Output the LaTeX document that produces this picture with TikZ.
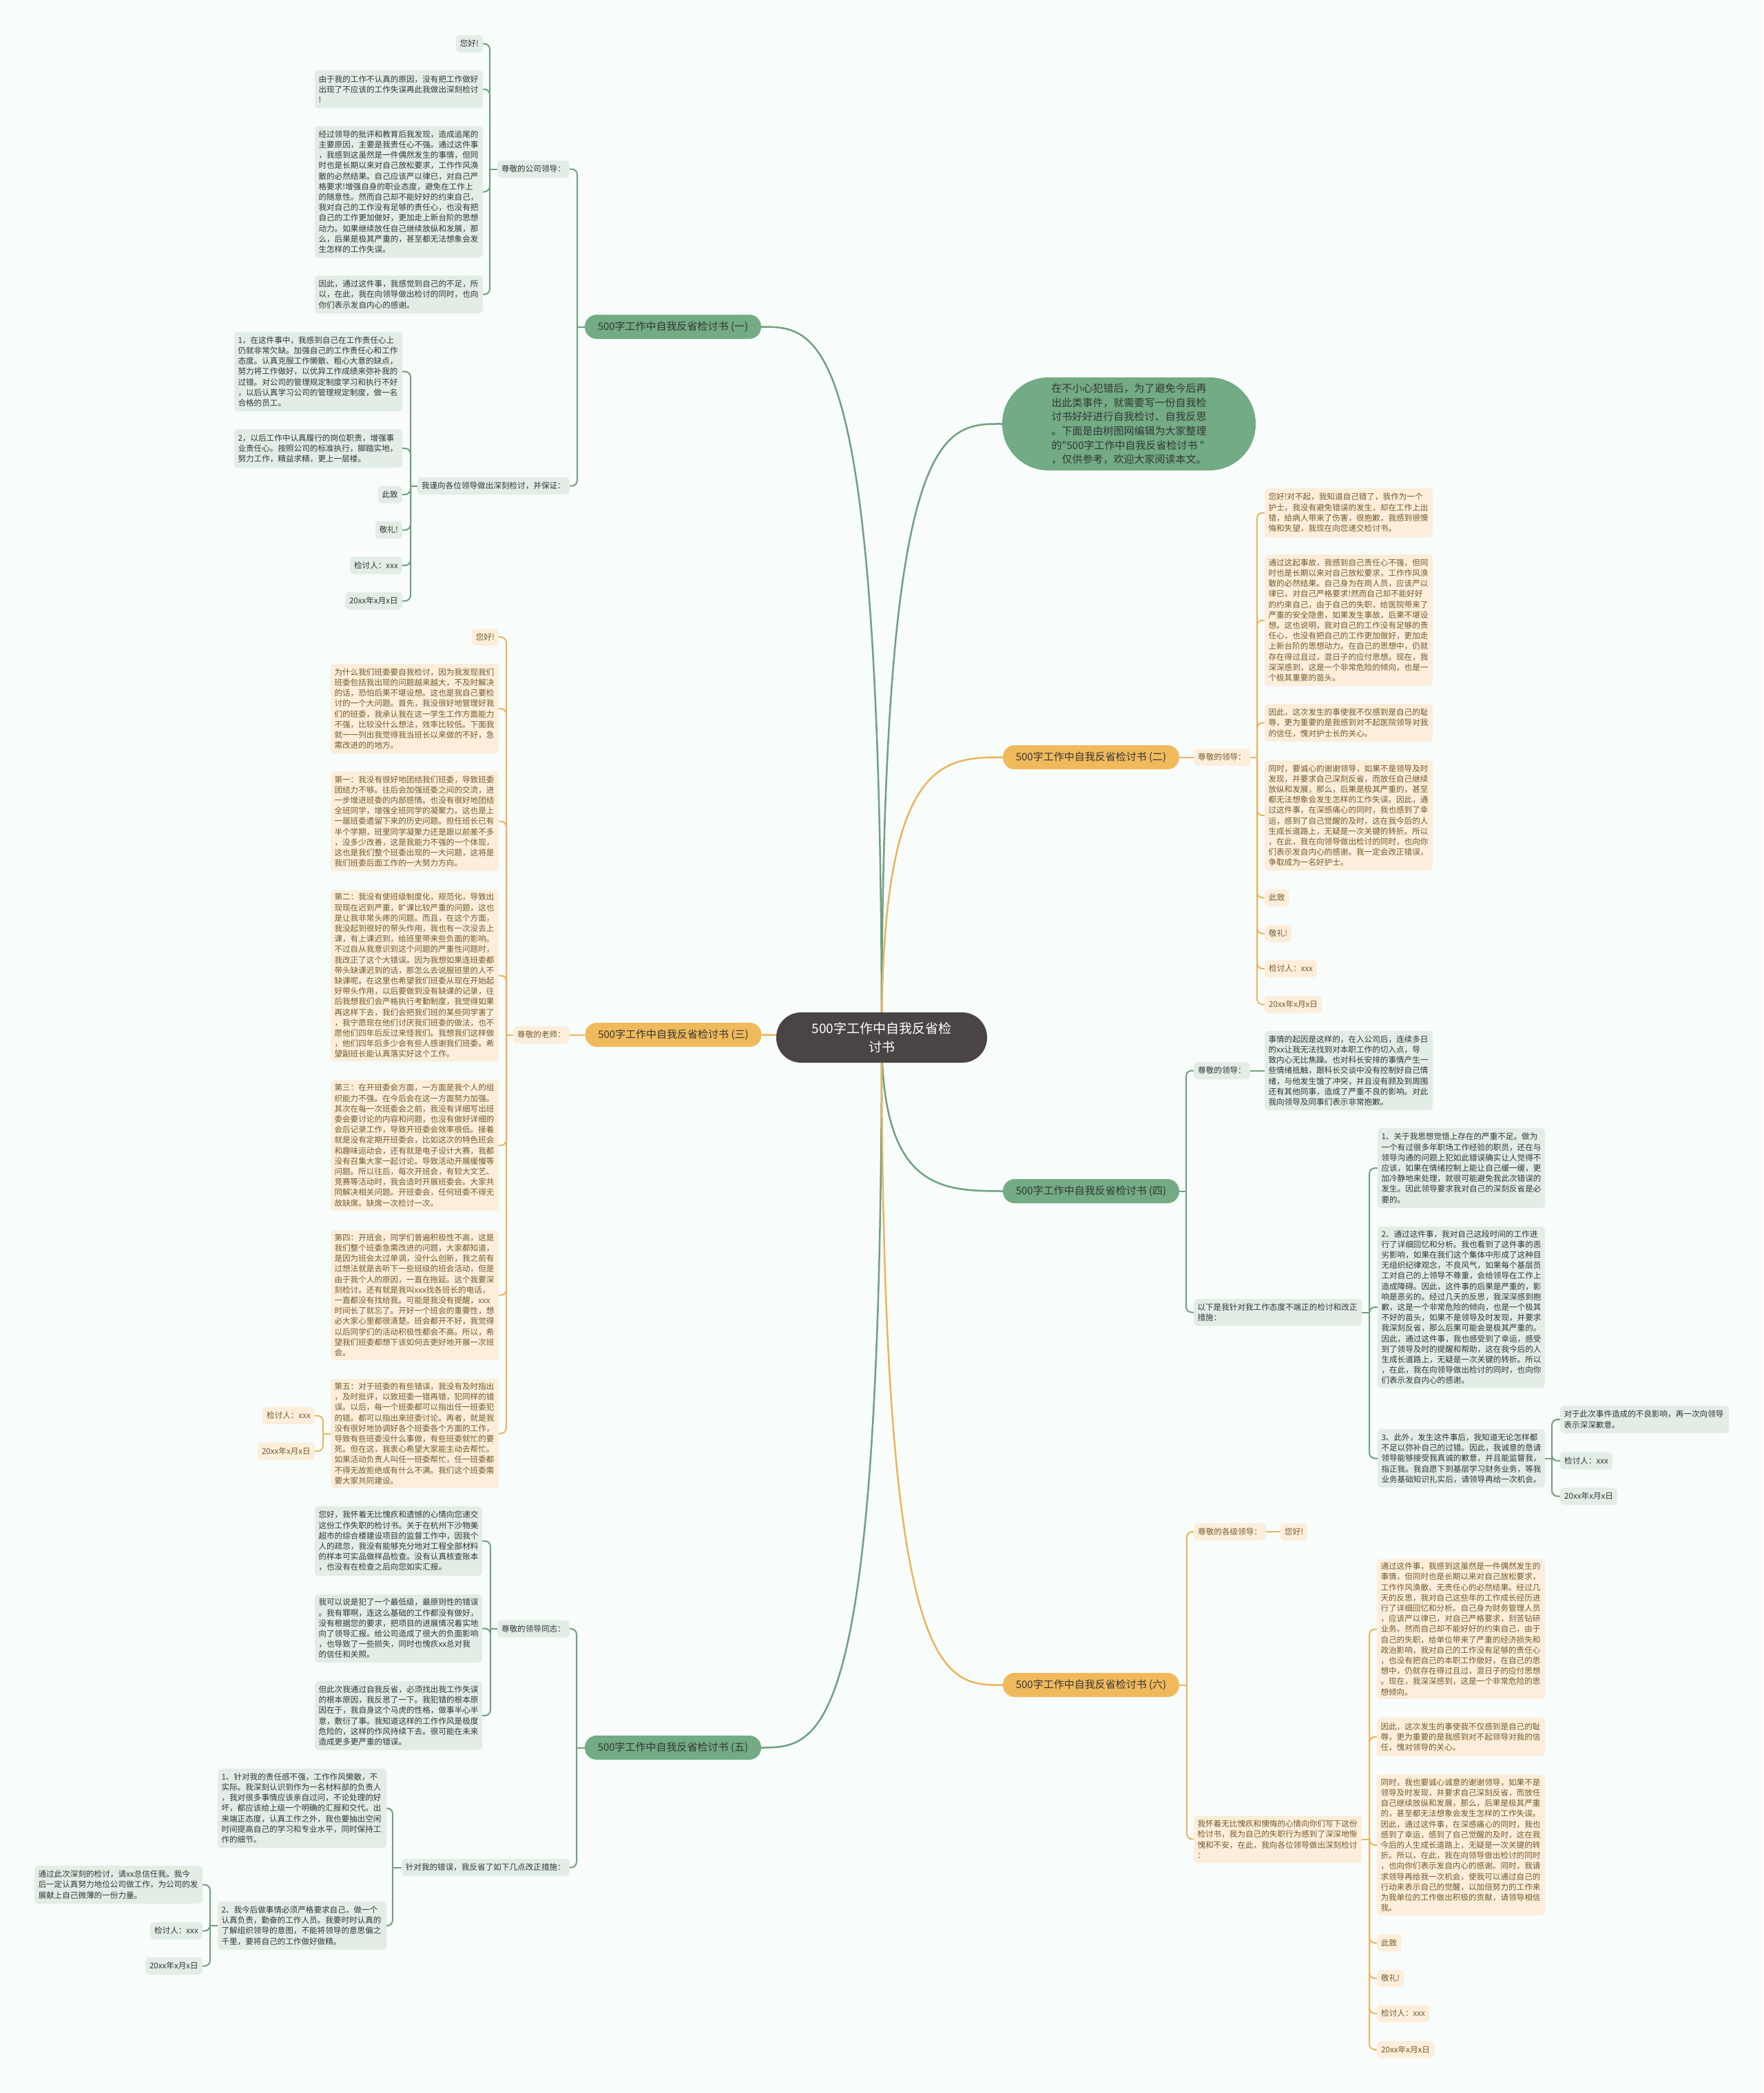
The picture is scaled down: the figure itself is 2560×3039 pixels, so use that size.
\documentclass[tikz,border=0pt]{standalone}
\usepackage{fontspec}
\newfontfamily\cjk{Noto Sans CJK SC}
\definecolor{bgc}{HTML}{F8FCFB}
\definecolor{glinec}{HTML}{6FA07F}
\definecolor{olinec}{HTML}{E9B55C}
\definecolor{gbrc}{HTML}{72AB84}
\definecolor{obrc}{HTML}{F0BA5C}
\definecolor{gleafc}{HTML}{E2EEE5}
\definecolor{oleafc}{HTML}{FCEEDB}
\definecolor{gtextc}{HTML}{353535}
\definecolor{otextc}{HTML}{765A2C}
\definecolor{ctrc}{HTML}{4A4444}
\pgfdeclarelayer{back}\pgfdeclarelayer{bg}\pgfsetlayers{back,bg,main}
\newcommand\bx[7]{%
 \pgfmathsetmacro\bxw{#5-#3}%
 \pgfmathsetmacro\bxh{#6-#4}%
 \pgfmathsetmacro\bxt{#5-#3-11}%
 \pgfmathsetmacro\bxcx{(#3+#5)/2}%
 \pgfmathsetmacro\bxcy{(#4+#6)/2}%
 \node[#1, minimum width=\bxw pt, minimum height=\bxh pt, text width=\bxt pt, inner xsep=5.5pt] (#2) at (\bxcx,\bxcy) {#7};}
\newcommand\smE[5]{\node[#1, anchor=east, minimum height=25pt] (#2) at (#3,#4) {#5};}
\newcommand\smW[5]{\node[#1, anchor=west, minimum height=25pt] (#2) at (#3,#4) {#5};}
\newcommand\ltree[4]{%
 \coordinate (sp) at (#3,0);
 \draw[#1] (#2.west) -- (#2.west -| sp);
 \foreach \c in {#4}{\draw[#1,rounded corners=8pt] (#2.west -| sp) |- (\c.east);}}
\newcommand\rtree[4]{%
 \coordinate (sp) at (#3,0);
 \draw[#1] (#2.east) -- (#2.east -| sp);
 \foreach \c in {#4}{\draw[#1,rounded corners=8pt] (#2.east -| sp) |- (\c.west);}}
\tikzset{
 every node/.style={font=\cjk\fontsize{11.6}{15.2}\selectfont, inner xsep=6pt, inner ysep=3pt},
 gleaf/.style={fill=gleafc, rounded corners=5pt, text=gtextc, align=left},
 oleaf/.style={fill=oleafc, rounded corners=5pt, text=otextc, align=left},
 brbase/.style={rounded corners=17pt, font=\cjk\fontsize{15}{18}\selectfont, minimum width=256pt, minimum height=35pt, inner sep=0pt, text=gtextc},
 gbr/.style={brbase, fill=gbrc},
 obr/.style={brbase, fill=obrc},
 gl/.style={draw=glinec, line width=2pt},
 ol/.style={draw=olinec, line width=2pt},
 gmain/.style={draw=glinec, line width=2.5pt},
 omain/.style={draw=olinec, line width=2.5pt},
}
\begin{document}
\begin{tikzpicture}[x=1pt,y=-1pt]
\useasboundingbox (0,0) rectangle (2560,3039);
\begin{pgfonlayer}{back}
\fill[bgc] (0,0) rectangle (2560,3039);
\end{pgfonlayer}

% center and intro
\node[fill=ctrc, text=white, rounded corners=36pt, minimum width=306pt, minimum height=73pt, align=center, font=\cjk\fontsize{19}{27}\selectfont] (ctr) at (1280,1506.5) {500字工作中自我反省检\\讨书};
\node[fill=gbrc, text=gtextc, rounded corners=67pt, minimum width=368pt, minimum height=135pt, align=left, font=\cjk\fontsize{15}{20.7}\selectfont] (intro) at (1639,615.5) {在不小心犯错后，为了避免今后再\\出此类事件，就需要写一份自我检\\讨书好好进行自我检讨、自我反思\\。下面是由树图网编辑为大家整理\\的"500字工作中自我反省检讨书 "\\，仅供参考，欢迎大家阅读本文。};

% branch labels
\node[gbr] (b1) at (977,474.5) {500字工作中自我反省检讨书 (一)};
\node[obr] (b3) at (977.5,1502.5) {500字工作中自我反省检讨书 (三)};
\node[gbr] (b5) at (977,2537.5) {500字工作中自我反省检讨书 (五)};
\node[obr] (b2) at (1584,1099.5) {500字工作中自我反省检讨书 (二)};
\node[gbr] (b4) at (1584,1729.5) {500字工作中自我反省检讨书 (四)};
\node[obr] (b6) at (1584,2446.5) {500字工作中自我反省检讨书 (六)};

% ---------- branch 1
\smE{gleaf}{s1a}{827}{245.5}{尊敬的公司领导：}
\smE{gleaf}{s1b}{827}{705.5}{我谨向各位领导做出深刻检讨，并保证：}
\smE{gleaf}{c1}{701}{63.5}{您好!}
\bx{gleaf}{c2}{457}{102}{701}{157}{由于我的工作不认真的原因，没有把工作做好\\出现了不应该的工作失误再此我做出深刻检讨\\!}
\bx{gleaf}{c3}{457}{183}{701}{374}{经过领导的批评和教育后我发现，造成追尾的\\主要原因，主要是我责任心不强。通过这件事\\，我感到这虽然是一件偶然发生的事情，但同\\时也是长期以来对自己放松要求，工作作风涣\\散的必然结果。自己应该严以律已，对自己严\\格要求!增强自身的职业态度，避免在工作上\\的随意性。然而自己却不能好好的约束自己，\\我对自己的工作没有足够的责任心，也没有把\\自己的工作更加做好，更加走上新台阶的思想\\动力。如果继续放任自己继续放纵和发展，那\\么，后果是极其严重的，甚至都无法想象会发\\生怎样的工作失误。}
\bx{gleaf}{c4}{457}{400}{701}{455}{因此，通过这件事，我感觉到自己的不足，所\\以，在此，我在向领导做出检讨的同时，也向\\你们表示发自内心的感谢。}
\bx{gleaf}{d1}{340}{482}{584}{597}{1，在这件事中，我感到自己在工作责任心上\\仍就非常欠缺。加强自己的工作责任心和工作\\态度。认真克服工作懒散、粗心大意的缺点，\\努力将工作做好，以优异工作成绩来弥补我的\\过错。对公司的管理规定制度学习和执行不好\\，以后认真学习公司的管理规定制度，做一名\\合格的员工。}
\bx{gleaf}{d2}{340}{623}{584}{679}{2，以后工作中认真履行的岗位职责，增强事\\业责任心。按照公司的标准执行，脚踏实地，\\努力工作，精益求精，更上一层楼。}
\smE{gleaf}{d3}{584}{718}{此致}
\smE{gleaf}{d4}{584}{769.5}{敬礼!}
\smE{gleaf}{d5}{584}{821}{检讨人：xxx}
\smE{gleaf}{d6}{584}{872.5}{20xx年x月x日}

% ---------- branch 3
\smE{oleaf}{s3}{827}{1502.5}{尊敬的老师：}
\smE{oleaf}{e1}{724}{925}{您好!}
\bx{oleaf}{e2}{480}{964}{724}{1094}{为什么我们班委要自我检讨，因为我发现我们\\班委包括我出现的问题越来越大，不及时解决\\的话，恐怕后果不堪设想。这也是我自己要检\\讨的一个大问题。首先，我没很好地管理好我\\们的班委，我承认我在这一学生工作方面能力\\不强，比较没什么想法，效率比较低。下面我\\就一一列出我觉得我当班长以来做的不好，急\\需改进的的地方。}
\bx{oleaf}{e3}{480}{1120}{724}{1265}{第一：我没有很好地团结我们班委，导致班委\\团结力不够。往后会加强班委之间的交流，进\\一步增进班委的内部感情。也没有很好地团结\\全班同学，增强全班同学的凝聚力。这也是上\\一届班委遗留下来的历史问题。担任班长已有\\半个学期，班里同学凝聚力还是跟以前差不多\\，没多少改善，这是我能力不强的一个体现，\\这也是我们整个班委出现的一大问题，这将是\\我们班委后面工作的一大努力方向。}
\bx{oleaf}{e4}{480}{1292}{724}{1541}{第二：我没有使班级制度化，规范化，导致出\\现现在迟到严重，旷课比较严重的问题，这也\\是让我非常头疼的问题。而且，在这个方面，\\我没起到很好的带头作用，我也有一次没去上\\课，有上课迟到，给班里带来些负面的影响。\\不过自从我意识到这个问题的严重性问题时，\\我改正了这个大错误。因为我想如果连班委都\\带头缺课迟到的话，那怎么去说服班里的人不\\缺课呢。在这里也希望我们班委从现在开始起\\好带头作用，以后要做到没有缺课的记录，往\\后我想我们会严格执行考勤制度，我觉得如果\\再这样下去，我们会把我们班的某些同学害了\\，我宁愿现在他们讨厌我们班委的做法，也不\\愿他们四年后反过来怪我们。我想我们这样做\\，他们四年后多少会有些人感谢我们班委。希\\望副班长能认真落实好这个工作。}
\bx{oleaf}{e5}{480}{1568}{724}{1758}{第三：在开班委会方面，一方面是我个人的组\\织能力不强。在今后会在这一方面努力加强。\\其次在每一次班委会之前，我没有详细写出班\\委会要讨论的内容和问题，也没有做好详细的\\会后记录工作，导致开班委会效率很低。接着\\就是没有定期开班委会，比如这次的特色班会\\和趣味运动会，还有就是电子设计大赛，我都\\没有召集大家一起讨论。导致活动开展缓慢等\\问题。所以往后，每次开班会，有较大文艺、\\竞赛等活动时，我会适时开展班委会。大家共\\同解决相关问题。开班委会，任何班委不得无\\故缺席。缺席一次检讨一次。}
\bx{oleaf}{e6}{480}{1786}{724}{1975}{第四：开班会，同学们普遍积极性不高，这是\\我们整个班委急需改进的问题，大家都知道，\\是因为班会太过单调，没什么创新，我之前有\\过想法就是去听下一些班级的班会活动，但是\\由于我个人的原因，一直在拖延。这个我要深\\刻检讨。还有就是我叫xxx找各班长的电话，\\一直都没有找给我。可能是我没有提醒，xxx\\时间长了就忘了。开好一个班会的重要性，想\\必大家心里都很清楚。班会都开不好，我觉得\\以后同学们的活动积极性都会不高。所以，希\\望我们班委都想下该如何去更好地开展一次班\\会。}
\bx{oleaf}{e7}{480}{2002}{724}{2161}{第五：对于班委的有些错误，我没有及时指出\\，及时批评，以致班委一错再错，犯同样的错\\误。以后，每一个班委都可以指出任一班委犯\\的错。都可以指出来班委讨论。再者，就是我\\没有很好地协调好各个班委各个方面的工作，\\导致有些班委没什么事做，有些班委就忙的要\\死。但在这，我衷心希望大家能主动去帮忙。\\如果活动负责人叫任一班委帮忙，任一班委都\\不得无故拒绝或有什么不满。我们这个班委需\\要大家共同建设。}
\smE{oleaf}{f1}{457}{2055.5}{检讨人：xxx}
\smE{oleaf}{f2}{457}{2107}{20xx年x月x日}

% ---------- branch 5
\smE{gleaf}{s5a}{827}{2365}{尊敬的领导同志：}
\smE{gleaf}{s5b}{827}{2711.5}{针对我的错误，我反省了如下几点改正措施：}
\bx{gleaf}{g1}{457}{2187}{700}{2288}{您好，我怀着无比愧疚和遗憾的心情向您递交\\这份工作失职的检讨书。关于在杭州下沙物美\\超市的综合楼建设项目的监督工作中，因我个\\人的疏忽，我没有能够充分地对工程全部材料\\的样本可实品做样品检查。没有认真核查账本\\，也没有在检查之后向您如实汇报。}
\bx{gleaf}{g2}{457}{2315}{700}{2414}{我可以说是犯了一个最低级，最原则性的错误\\。我有罪啊，连这么基础的工作都没有做好，\\没有根据您的要求，把项目的进展情况着实地\\向了领导汇报。给公司造成了很大的负面影响\\，也导致了一些损失，同时也愧疚xx总对我\\的信任和关照。}
\bx{gleaf}{g3}{457}{2441}{700}{2541}{但此次我通过自我反省，必须找出我工作失误\\的根本原因，我反思了一下。我犯错的根本原\\因在于，我自身这个马虎的性格，做事半心半\\意，敷衍了事。我知道这样的工作作风是极度\\危险的，这样的作风持续下去。很可能在未来\\造成更多更严重的错误。}
\bx{gleaf}{h1}{316}{2568}{561}{2683}{1、针对我的责任感不强，工作作风懒散，不\\实际。我深刻认识到作为一名材料部的负责人\\，我对很多事情应该亲自过问，不论处理的好\\坏，都应该给上级一个明确的汇报和交代。出\\来端正态度，认真工作之外，我也要抽出空闲\\时间提高自己的学习和专业水平，同时保持工\\作的细节。}
\bx{gleaf}{h2}{316}{2761}{561}{2831}{2、我今后做事情必须严格要求自己，做一个\\认真负责，勤奋的工作人员。我要时时认真的\\了解组织领导的意图，不能将领导的意思偏之\\千里，要将自己的工作做好做精。}
\bx{gleaf}{i1}{50}{2709}{294}{2764}{通过此次深刻的检讨，请xx总信任我。我今\\后一定认真努力地位公司做工作，为公司的发\\展献上自己微薄的一份力量。}
\smE{gleaf}{i2}{294}{2803.5}{检讨人：xxx}
\smE{gleaf}{i3}{294}{2854.5}{20xx年x月x日}

% ---------- branch 2
\smW{oleaf}{s2}{1733}{1099.5}{尊敬的领导：}
\bx{oleaf}{j1}{1836}{709}{2080}{780}{您好!对不起，我知道自己错了，我作为一个\\护士，我没有避免错误的发生，却在工作上出\\错，给病人带来了伤害，很抱歉，我感到很懊\\悔和失望，我现在向您递交检讨书。}
\bx{oleaf}{j2}{1836}{805}{2080}{996}{通过这起事故，我感到自己责任心不强，但同\\时也是长期以来对自己放松要求，工作作风涣\\散的必然结果。自己身为在岗人员，应该严以\\律已，对自己严格要求!然而自己却不能好好\\的约束自己，由于自己的失职，给医院带来了\\严重的安全隐患，如果发生事故，后果不堪设\\想。这也说明，我对自己的工作没有足够的责\\任心，也没有把自己的工作更加做好，更加走\\上新台阶的思想动力。在自己的思想中，仍就\\存在得过且过，混日子的应付思想。现在，我\\深深感到，这是一个非常危险的倾向，也是一\\个极其重要的苗头。}
\bx{oleaf}{j3}{1836}{1022}{2080}{1077}{因此，这次发生的事使我不仅感到是自己的耻\\辱，更为重要的是我感到对不起医院领导对我\\的信任，愧对护士长的关心。}
\bx{oleaf}{j4}{1836}{1104}{2080}{1264}{同时，要诚心的谢谢领导，如果不是领导及时\\发现，并要求自己深刻反省，而放任自己继续\\放纵和发展，那么，后果是极其严重的，甚至\\都无法想象会发生怎样的工作失误。因此，通\\过这件事，在深感痛心的同时，我也感到了幸\\运，感到了自己觉醒的及时，这在我今后的人\\生成长道路上，无疑是一次关键的转折。所以\\，在此，我在向领导做出检讨的同时，也向你\\们表示发自内心的感谢。我一定会改正错误，\\争取成为一名好护士。}
\smW{oleaf}{j5}{1836}{1303.5}{此致}
\smW{oleaf}{j6}{1836}{1355.5}{敬礼!}
\smW{oleaf}{j7}{1836}{1406.5}{检讨人：xxx}
\smW{oleaf}{j8}{1836}{1458.5}{20xx年x月x日}

% ---------- branch 4
\smW{gleaf}{s4a}{1733}{1554.5}{尊敬的领导：}
\bx{gleaf}{k1}{1836}{1497}{2080}{1612}{事情的起因是这样的，在入公司后，连续多日\\的xx让我无法找到对本职工作的切入点，导\\致内心无比焦躁。也对科长安排的事情产生一\\些情绪抵触，跟科长交谈中没有控制好自己情\\绪，与他发生饿了冲突，并且没有顾及到周围\\还有其他同事，造成了严重不良的影响。对此\\我向领导及同事们表示非常抱歉。}
\bx{gleaf}{s4b}{1733}{1886}{1977}{1925}{以下是我针对我工作态度不端正的检讨和改正\\措施：}
\bx{gleaf}{l1}{2000}{1638}{2243}{1754}{1、关于我思想觉悟上存在的严重不足。做为\\一个有过很多年职场工作经验的职员，还在与\\领导沟通的问题上犯如此错误确实让人觉得不\\应该，如果在情绪控制上能让自己缓一缓，更\\加冷静地来处理，就很可能避免我此次错误的\\发生。因此领导要求我对自己的深刻反省是必\\要的。}
\bx{gleaf}{l2}{2000}{1781}{2243}{2015}{2、通过这件事，我对自己这段时间的工作进\\行了详细回忆和分析。我也看到了这件事的恶\\劣影响，如果在我们这个集体中形成了这种目\\无组织纪律观念，不良风气，如果每个基层员\\工对自己的上领导不尊重，会给领导在工作上\\造成障碍。因此，这件事的后果是严重的，影\\响是恶劣的。经过几天的反思，我深深感到抱\\歉，这是一个非常危险的倾向，也是一个极其\\不好的苗头，如果不是领导及时发现，并要求\\我深刻反省，那么后果可能会是极其严重的。\\因此，通过这件事，我也感受到了幸运，感受\\到了领导及时的提醒和帮助，这在我今后的人\\生成长道路上，无疑是一次关键的转折。所以\\，在此，我在向领导做出检讨的同时，也向你\\们表示发自内心的感谢。}
\bx{gleaf}{l3}{2000}{2075}{2243}{2160}{3、此外，发生这件事后，我知道无论怎样都\\不足以弥补自己的过错。因此，我诚意的恳请\\领导能够接受我真诚的歉意，并且能监督我，\\指正我。我自愿下到基层学习财务业务，等我\\业务基础知识扎实后，请领导再给一次机会。}
\bx{gleaf}{m1}{2265}{2041}{2510}{2081}{对于此次事件造成的不良影响，再一次向领导\\表示深深歉意。}
\smW{gleaf}{m2}{2265}{2121}{检讨人：xxx}
\smW{gleaf}{m3}{2265}{2172.5}{20xx年x月x日}

% ---------- branch 6
\smW{oleaf}{s6a}{1733}{2224}{尊敬的各级领导：}
\smW{oleaf}{n0}{1859}{2224}{您好!}
\bx{oleaf}{s6b}{1733}{2636}{1977}{2705}{我怀着无比愧疚和懊悔的心情向你们写下这份\\检讨书，我为自己的失职行为感到了深深地惭\\愧和不安，在此，我向各位领导做出深刻检讨\\：}
\bx{oleaf}{o1}{1999}{2264}{2243}{2467}{通过这件事，我感到这虽然是一件偶然发生的\\事情，但同时也是长期以来对自己放松要求，\\工作作风涣散、无责任心的必然结果。经过几\\天的反思，我对自己这些年的工作成长经历进\\行了详细回忆和分析。自己身为财务管理人员\\，应该严以律已，对自己严格要求，刻苦钻研\\业务。然而自己却不能好好的约束自己，由于\\自己的失职，给单位带来了严重的经济损失和\\政治影响，我对自己的工作没有足够的责任心\\，也没有把自己的本职工作做好，在自己的思\\想中，仍就存在得过且过，混日子的应付思想\\。现在，我深深感到，这是一个非常危险的思\\想倾向。}
\bx{oleaf}{o2}{1999}{2494}{2243}{2550}{因此，这次发生的事使我不仅感到是自己的耻\\辱，更为重要的是我感到对不起领导对我的信\\任，愧对领导的关心。}
\bx{oleaf}{o3}{1999}{2577}{2243}{2781}{同时，我也要诚心诚意的谢谢领导，如果不是\\领导及时发现，并要求自己深刻反省，而放任\\自己继续放纵和发展，那么，后果是极其严重\\的，甚至都无法想象会发生怎样的工作失误。\\因此，通过这件事，在深感痛心的同时，我也\\感到了幸运，感到了自己觉醒的及时，这在我\\今后的人生成长道路上，无疑是一次关键的转\\折。所以，在此，我在向领导做出检讨的同时\\，也向你们表示发自内心的感谢。同时，我请\\求领导再给我一次机会，使我可以通过自己的\\行动来表示自己的觉醒，以加倍努力的工作来\\为我单位的工作做出积极的贡献，请领导相信\\我。}
\smW{oleaf}{o4}{1999}{2821}{此致}
\smW{oleaf}{o5}{1999}{2872.5}{敬礼!}
\smW{oleaf}{o6}{1999}{2923.5}{检讨人：xxx}
\smW{oleaf}{o7}{1999}{2976}{20xx年x月x日}

% ---------- connectors
\begin{pgfonlayer}{bg}
\draw[gmain] (ctr.center) .. controls (1280,475) and (1192,475) .. (b1.east);
\draw[omain] (ctr.center) -- (b3.east);
\draw[gmain] (ctr.center) .. controls (1280,2537) and (1192,2537) .. (b5.east);
\draw[gmain] (ctr.center) .. controls (1280,615) and (1367,615) .. (intro.west);
\draw[omain] (ctr.center) .. controls (1280,1100) and (1368,1100) .. (b2.west);
\draw[gmain] (ctr.center) .. controls (1280,1729) and (1368,1729) .. (b4.west);
\draw[omain] (ctr.center) .. controls (1280,2447) and (1368,2447) .. (b6.west);

\ltree{gl}{b1}{838}{s1a,s1b}
\ltree{gl}{s1a}{711}{c1,c2,c3,c4}
\ltree{gl}{s1b}{596}{d1,d2,d3,d4,d5,d6}

\draw[ol] (b3.west) -- (s3.east);
\ltree{ol}{s3}{735}{e1,e2,e3,e4,e5,e6,e7}
\ltree{ol}{e7}{469}{f1,f2}

\ltree{gl}{b5}{837}{s5a,s5b}
\ltree{gl}{s5a}{712}{g1,g2,g3}
\ltree{gl}{s5b}{570}{h1,h2}
\ltree{gl}{h2}{305}{i1,i2,i3}

\draw[ol] (b2.east) -- (s2.west);
\rtree{ol}{s2}{1825}{j1,j2,j3,j4,j5,j6,j7,j8}

\rtree{gl}{b4}{1722}{s4a,s4b}
\draw[gl] (s4a.east) -- (k1.west);
\rtree{gl}{s4b}{1988}{l1,l2,l3}
\rtree{gl}{l3}{2253}{m1,m2,m3}

\rtree{ol}{b6}{1723}{s6a,s6b}
\draw[ol] (s6a.east) -- (n0.west);
\rtree{ol}{s6b}{1988}{o1,o2,o3,o4,o5,o6,o7}
\end{pgfonlayer}
\end{tikzpicture}
\end{document}
